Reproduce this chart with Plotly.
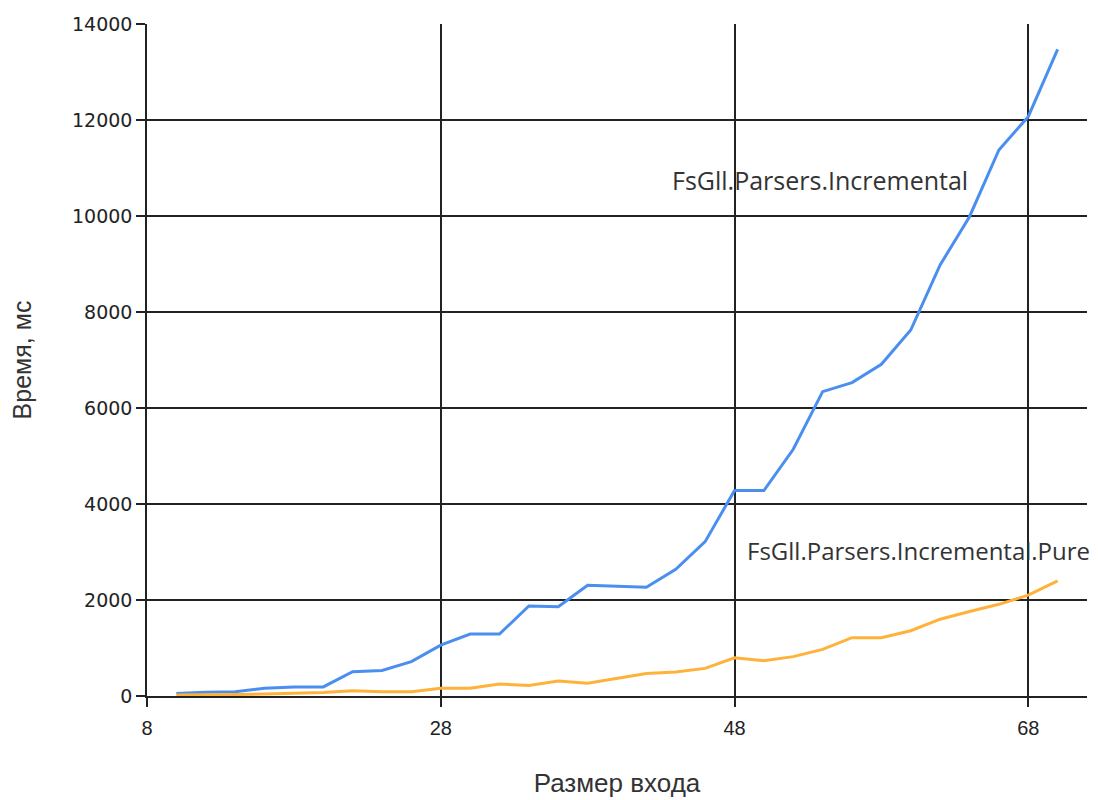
import plotly.graph_objects as go

sizes = [10, 12, 14, 16, 18, 20, 22, 24, 26, 28, 30, 32, 34, 36, 38, 40,
         42, 44, 46, 48, 50, 52, 54, 56, 58, 60, 62, 64, 66, 68, 70]
incremental = [50, 80, 90, 160, 190, 190, 505, 530, 715, 1060, 1290, 1290,
               1875, 1860, 2305, 2290, 2265, 2640, 3215, 4280, 4280, 5140,
               6340, 6530, 6910, 7625, 8980, 9985, 11375, 12070, 13470]
incremental_pure = [20, 20, 30, 40, 55, 75, 110, 90, 90, 160, 160, 250,
                    220, 310, 265, 365, 470, 500, 575, 795, 735, 820,
                    970, 1215, 1215, 1360, 1600, 1760, 1910, 2100, 2400]
x_ticks = [8, 28, 48, 68]
y_ticks = [0, 2000, 4000, 6000, 8000, 10000, 12000, 14000]
y_tick_labels = ["0", "2000", "4000", "6000", "8000", "10000", "12000", "14000"]

fig = go.Figure()
fig.add_trace(go.Scatter(x=sizes, y=incremental, mode="lines",
                         name="FsGll.Parsers.Incremental",
                         line=dict(color="#4a8ff0", width=3)))
fig.add_trace(go.Scatter(x=sizes, y=incremental_pure, mode="lines",
                         name="FsGll.Parsers.Incremental.Pure",
                         line=dict(color="#ffb23a", width=3)))

fig.add_annotation(x=53.8, y=10750, text="FsGll.Parsers.Incremental",
                   showarrow=False, font=dict(family="Open Sans", size=25, color="#333333"))
fig.add_annotation(x=60.5, y=3040, text="FsGll.Parsers.Incremental.Pure",
                   showarrow=False, font=dict(family="Open Sans", size=24, color="#333333"))

fig.update_layout(
    width=1098, height=800,
    margin=dict(l=139, r=19, t=16, b=112, autoexpand=False),
    paper_bgcolor="white", plot_bgcolor="white",
    showlegend=False,
    xaxis=dict(range=[8, 72], tickvals=x_ticks, ticks="outside", ticklen=9,
               tickwidth=1.5, tickcolor="#222", showgrid=True, gridcolor="#222",
               gridwidth=1.5, showline=True, linecolor="#222", linewidth=1.5,
               zeroline=False, ticklabelstandoff=4, automargin=False,
               tickfont=dict(family="Liberation Sans", size=20, color="#222"),
               title=dict(text="Размер входа", standoff=36,
                          font=dict(family="Liberation Sans", size=26, color="#333"))),
    yaxis=dict(range=[0, 14000], tickvals=y_ticks, ticktext=y_tick_labels,
               ticks="outside", ticklen=9, automargin=False,
               tickwidth=1.5, tickcolor="#222", showgrid=True, gridcolor="#222",
               gridwidth=1.5, showline=True, linecolor="#222", linewidth=1.5,
               zeroline=False,
               tickfont=dict(family="DejaVu Sans", size=19, color="#222"),
               title=dict(text="Время, мс", standoff=34,
                          font=dict(family="Liberation Sans", size=25, color="#333"))),
)

fig.write_html("out.html")
